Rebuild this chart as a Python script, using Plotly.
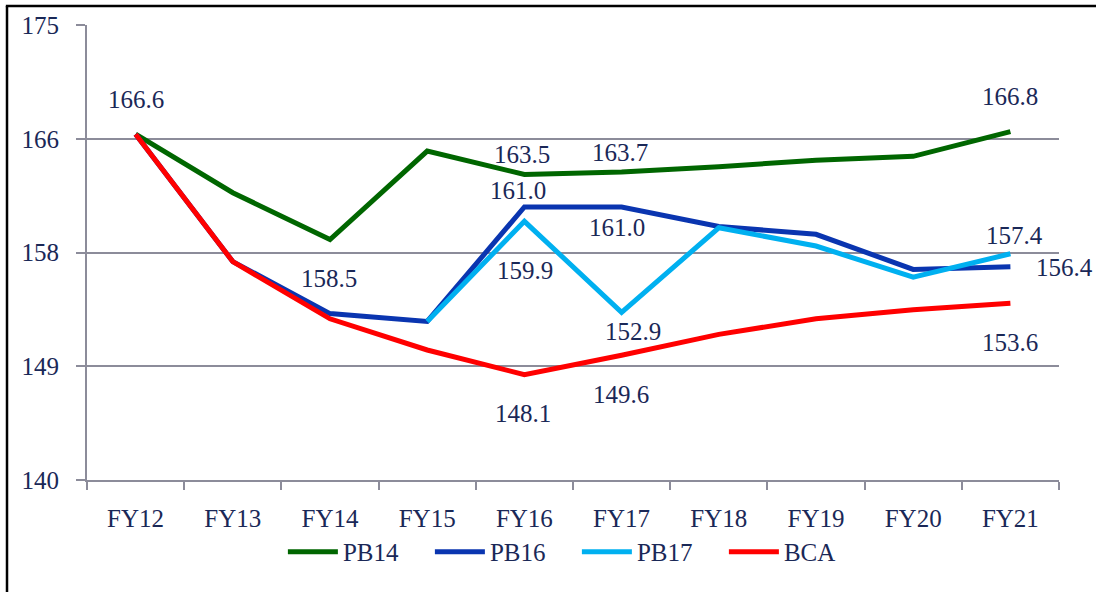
import plotly.graph_objects as go

categories = ["FY12", "FY13", "FY14", "FY15", "FY16", "FY17", "FY18", "FY19", "FY20", "FY21"]
pb14 = [166.6, 162.1, 158.5, 165.3, 163.5, 163.7, 164.1, 164.6, 164.9, 166.8]
pb16 = [166.6, 156.8, 152.8, 152.2, 161.0, 161.0, 159.5, 158.9, 156.2, 156.4]
pb17 = [None, None, None, 152.2, 159.9, 152.9, 159.4, 158.0, 155.6, 157.4]
bca = [166.6, 156.8, 152.4, 150.0, 148.1, 149.6, 151.2, 152.4, 153.1, 153.6]

y_tickvals = [140, 148.75, 157.5, 166.25, 175]
y_ticktext = ["140", "149", "158", "166", "175"]

series = {"PB14": pb14, "PB16": pb16, "PB17": pb17, "BCA": bca}
colors = {"PB14": "#006600", "PB16": "#0a35b0", "PB17": "#00b0f0", "BCA": "#ff0000"}

# data labels: (series, category index, xshift, yshift)
labels = [
    ("PB14", 0, 0, 35),
    ("PB14", 2, -1, -39),
    ("PB14", 4, -2, 20),
    ("PB14", 5, -2, 19),
    ("PB16", 4, -6, 17),
    ("PB16", 5, -5, -20),
    ("PB17", 4, 1, -49),
    ("PB17", 5, 11, -19),
    ("BCA", 4, -1, -39),
    ("BCA", 5, -1, -39),
    ("PB14", 9, 0, 35),
    ("PB17", 9, 4, 18),
    ("PB16", 9, 54, -1),
    ("BCA", 9, 0, -39),
]

TEXT = "#1a2857"
GRID = "#8c8c9a"
FONT = "Liberation Serif"

fig = go.Figure()
for name, vals in series.items():
    fig.add_trace(go.Scatter(
        x=categories, y=vals, mode="lines", name=name,
        line=dict(color=colors[name], width=5),
    ))

for s, i, dx, dy in labels:
    v = series[s][i]
    fig.add_annotation(
        x=categories[i], y=v, xref="x", yref="y",
        text=f"{v:.1f}", showarrow=False,
        xshift=dx, yshift=dy,
        font=dict(family=FONT, size=25, color=TEXT),
    )

# outer frame lines (left and top)
fig.add_shape(type="line", xref="paper", yref="paper",
              x0=-0.0823, x1=-0.0823, y0=1.0418, y1=-0.25,
              line=dict(color="black", width=2.5))
fig.add_shape(type="line", xref="paper", yref="paper",
              x0=-0.0835, x1=1.04, y0=1.0418, y1=1.0418,
              line=dict(color="black", width=2.5))

fig.update_layout(
    width=1096, height=592,
    margin=dict(l=87, r=37, t=25, b=112, autoexpand=False),
    paper_bgcolor="white", plot_bgcolor="white",
    font=dict(family=FONT, size=25, color=TEXT),
    showlegend=True,
    legend=dict(
        orientation="h", x=0.504, xanchor="center", y=-0.158, yanchor="middle",
        font=dict(family=FONT, size=25, color=TEXT),
        itemwidth=50, entrywidth=82, traceorder="normal",
    ),
    xaxis=dict(
        type="category", range=[-0.5, len(categories) - 0.5],
        showgrid=False, showline=True, linecolor=GRID, linewidth=2,
        ticks="outside", tickson="boundaries", ticklen=8, tickwidth=2, tickcolor=GRID,
        tickfont=dict(family=FONT, size=25, color=TEXT), ticklabelstandoff=15,
        zeroline=False, automargin=False,
    ),
    yaxis=dict(
        range=[140, 175], tickvals=y_tickvals, ticktext=y_ticktext,
        showgrid=True, gridcolor=GRID, gridwidth=2,
        showline=True, linecolor=GRID, linewidth=2,
        ticks="outside", ticklen=9, tickwidth=2, tickcolor=GRID,
        tickfont=dict(family=FONT, size=25, color=TEXT), ticklabelstandoff=12,
        zeroline=False, automargin=False,
    ),
)

fig.write_html("out.html", config={"displayModeBar": False},
               post_script="document.body.style.margin='0';")
